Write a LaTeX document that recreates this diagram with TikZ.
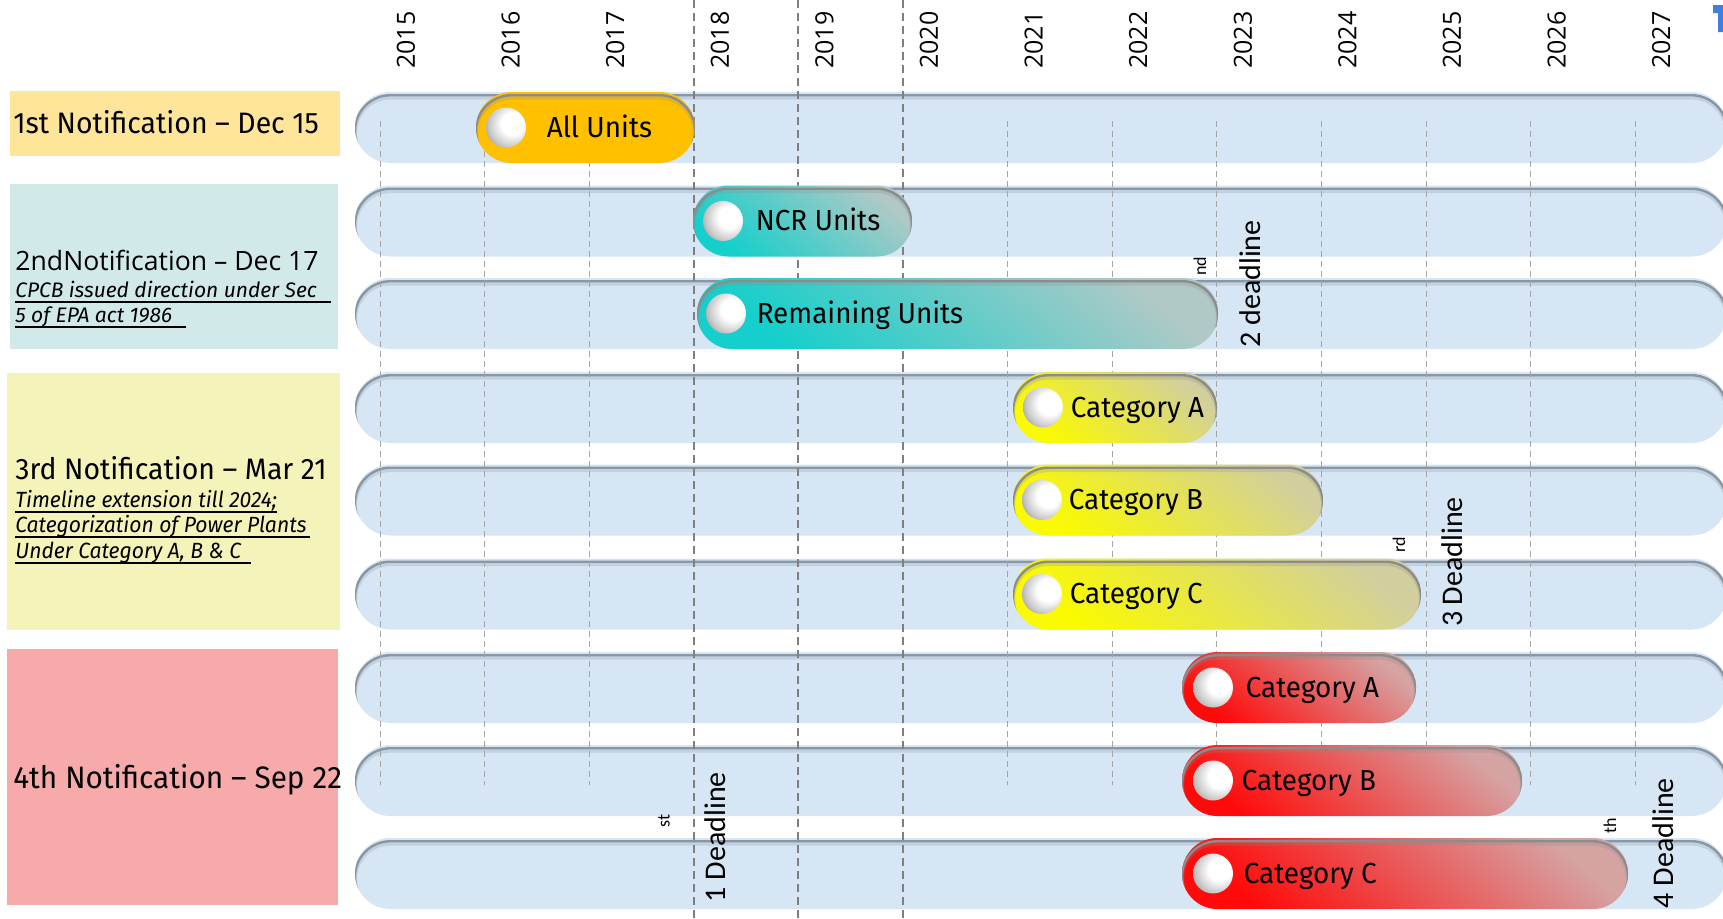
\documentclass[tikz,border=0pt]{standalone}
\usepackage{fontspec}
\setmainfont{Fira Sans}
\newfontfamily\condfont[FakeStretch=0.96]{Fira Sans}
\newfontfamily\widefont{Open Sans}
\newfontfamily\yearfont{Open Sans}
\newfontfamily\deadfont{Carlito}
\usetikzlibrary{positioning}

\definecolor{trackblue}{HTML}{D6E6F4}
\definecolor{trackrim}{HTML}{8A96A1}
\definecolor{notifone}{HTML}{FFE599}
\definecolor{notiftwo}{HTML}{D2E9EA}
\definecolor{notifthree}{HTML}{F3F3BA}
\definecolor{notiffour}{HTML}{F6AAAA}
\definecolor{amber}{HTML}{FFC000}
\definecolor{tealdeep}{HTML}{14CFCB}
\definecolor{tealpale}{HTML}{B0C9C6}
\definecolor{lemondeep}{HTML}{FAFA00}
\definecolor{lemonpale}{HTML}{D2CF9E}
\definecolor{reddeep}{HTML}{FF0A0A}
\definecolor{redpale}{HTML}{D6A3A3}
\definecolor{gridgray}{HTML}{7F7F7F}
\definecolor{cornerblue}{HTML}{3F7FE0}

\pgfdeclareradialshading{pearl}{\pgfpoint{10bp}{6bp}}{color(0bp)=(white); color(14bp)=(white); color(28bp)=(black!22); color(40bp)=(black!50); color(48bp)=(black!72); color(53bp)=(black!85); color(75bp)=(black!85)}

\begin{document}
\begin{tikzpicture}[x=0.5pt, y=-0.5pt, node distance=6pt,
  rim/.style={path picture={
    \draw[draw=#1, line width=2pt, opacity=.25, rounded corners=17.75pt] ([yshift=-2.8pt]path picture bounding box.south west) rectangle ([yshift=-2.8pt]path picture bounding box.north east);
    \draw[draw=#1, line width=1.2pt, rounded corners=17.75pt] ([yshift=-1.6pt]path picture bounding box.south west) rectangle ([yshift=-1.6pt]path picture bounding box.north east);}},
  track/.style={fill=trackblue, rounded corners=17.75pt, rim=trackrim},
  capsule/.style={rounded corners=17.75pt, rim=black!45},
  teal/.style={capsule, top color=tealpale, bottom color=tealdeep, shading angle=-40},
  lemon/.style={capsule, top color=lemonpale, bottom color=lemondeep, shading angle=-40},
  scarlet/.style={capsule, top color=redpale, bottom color=reddeep, shading angle=-40},
  bead/.style={circle, minimum size=20pt, inner sep=0pt, shade, shading=pearl},
  pilltext/.style={inner sep=0pt, text height=12pt, text depth=2.5pt, font=\condfont\fontsize{14.5}{17}\selectfont},
  notebox/.style={anchor=north west, inner sep=0pt},
  heading/.style={anchor=base west, inner sep=0pt, font=\condfont\fontsize{14.8}{17}\selectfont},
  subnote/.style={anchor=base west, inner sep=0pt, font=\condfont\itshape\fontsize{11}{13}\selectfont},
  uline/.style={line width=1pt},
  thingrid/.style={draw=gridgray!70, line width=0.5pt, dash pattern=on 3pt off 2pt},
  thickgrid/.style={draw=gridgray, line width=1pt, dash pattern=on 4pt off 2.5pt},
  yearlabel/.style={rotate=90, inner sep=0pt, font=\yearfont\fontsize{12.5}{15}\selectfont},
  deadline/.style={rotate=90, inner sep=0pt, font=\deadfont\fontsize{15}{18}\selectfont},
  deadsup/.style={rotate=90, inner sep=0pt, font=\deadfont\fontsize{9}{11}\selectfont}]

\useasboundingbox (0,0) rectangle (1723,918);
\clip (0,0) rectangle (1723,918);

\node (box1) [notebox, fill=notifone, minimum width=165pt, minimum height=32.5pt] at (10,91) {};
\node (box2) [notebox, fill=notiftwo, minimum width=164pt, minimum height=82.5pt] at (10,184) {};
\node (box3) [notebox, fill=notifthree, minimum width=166.5pt, minimum height=128.5pt] at (7,373) {};
\node (box4) [notebox, fill=notiffour, minimum width=165.5pt, minimum height=128pt] at (7,649) {};

\node (head1) [heading] at (13,133) {1st Notification – Dec 15};
\node (head2) [heading, font=\widefont\fontsize{13.3}{15}\selectfont] at (15,270) {2ndNotification – Dec 17};
\node (cpcb) [subnote, font=\itshape\fontsize{10.5}{12}\selectfont] at (15,297) {CPCB issued direction under Sec\hspace*{7pt}};
\node (epa) [subnote, font=\itshape\fontsize{10.5}{12}\selectfont] at (15,322) {5 of EPA act 1986\hspace*{7pt}};
\node (head3) [heading] at (15,479) {3rd Notification – Mar 21};
\node (ext) [subnote] at (15,507) {Timeline extension till 2024;};
\node (categ) [subnote] at (15,532) {Categorization of Power Plants\hspace*{1.5pt}};
\node (under) [subnote] at (15,558) {Under Category A, B \& C\hspace*{5pt}};
\node (head4) [heading, font=\condfont\fontsize{15.5}{18}\selectfont] at (13,788) {4th Notification – Sep 22};

\foreach \n in {cpcb,epa,ext,categ,under}
  \draw[uline] ([yshift=-2.5pt]\n.base west) -- ([yshift=-2.5pt]\n.base east);

\foreach \cy in {127.5,221,313.5,407.5,500,594,687.5,780.5,873.5}
  \fill[track] (355,\cy-35.5) rectangle (1727,\cy+35.5);

\foreach \i in {0,1,2,6,7,8,9,10,11,12}
  \draw[thingrid] (380+104.6*\i,121) -- (380+104.6*\i,785);
\foreach \i in {3,4,5}
  \draw[thickgrid] (380+104.6*\i,0) -- (380+104.6*\i,918);

\fill[capsule, fill=amber] (476,92) rectangle (695,163);
\node (ballall) [bead] at (506,127.5) {};
\node (allunits) [pilltext, right=10pt of ballall] {All Units};

\path[teal] (693,185.5) rectangle (912,256.5);
\node (ballncr) [bead] at (723,221) {};
\node (ncr) [pilltext, right=6pt of ballncr] {NCR Units};

\path[teal] (697,278) rectangle (1218,349);
\node (ballrem) [bead] at (726,313.5) {};
\node (remaining) [pilltext, right=5pt of ballrem] {Remaining Units};

\path[lemon] (1013,372) rectangle (1217,443);
\node (ballya) [bead] at (1043,407.5) {};
\node (catya) [pilltext, right=3.5pt of ballya] {Category A};

\path[lemon] (1013,464.5) rectangle (1323,535.5);
\node (ballyb) [bead] at (1042,500) {};
\node (catyb) [pilltext, right=3pt of ballyb] {Category B};

\path[lemon] (1013,558.5) rectangle (1421,629.5);
\node (ballyc) [bead] at (1042,594) {};
\node (catyc) [pilltext, right=3.5pt of ballyc] {Category C};

\path[scarlet] (1182,652) rectangle (1416,723);
\node (ballra) [bead] at (1213,687.5) {};
\node (catra) [pilltext, right=6pt of ballra] {Category A};

\path[scarlet] (1182,745) rectangle (1522,816);
\node (ballrb) [bead] at (1213,780.5) {};
\node (catrb) [pilltext, right=4pt of ballrb] {Category B};

\path[scarlet] (1182,838) rectangle (1628,909);
\node (ballrc) [bead] at (1213,873.5) {};
\node (catrc) [pilltext, right=5pt of ballrc] {Category C};

\foreach \yr [count=\i from 0] in {2015,...,2027}
  \node (yr\yr) [yearlabel] at (406+104.6*\i,40) {\yr};

\node (dl1) [deadline] at (715.5,837) {1 Deadline};
\node (dl1sup) [deadsup] at (664,821) {st};
\node (dl2) [deadline] at (1250,284) {2 deadline};
\node (dl2sup) [deadsup] at (1200,266) {nd};
\node (dl3) [deadline] at (1452,562) {3 Deadline};
\node (dl3sup) [deadsup] at (1399,545) {rd};
\node (dl4) [deadline] at (1663,843) {4 Deadline};
\node (dl4sup) [deadsup] at (1610,826) {th};

\fill[cornerblue] (1713,5) -- (1723,5) -- (1723,32) -- (1718,32) -- (1718,13) -- (1713,13) -- cycle;
\end{tikzpicture}
\end{document}
